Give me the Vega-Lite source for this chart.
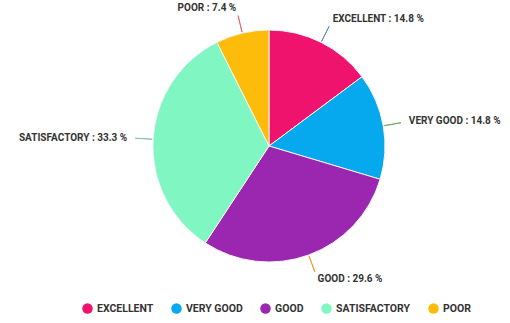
{
  "$schema": "https://vega.github.io/schema/vega-lite/v6.json",
  "autosize": "none",
  "width": 482,
  "height": 292,
  "padding": {"left": 28, "top": 0, "right": 0, "bottom": 31},
  "background": "white",
  "config": {"view": {"stroke": null}, "font": "Roboto"},
  "data": {
    "values": [
      {"category": "EXCELLENT", "count": 4, "rank": 1, "label": "EXCELLENT : 14.8 %"},
      {"category": "VERY GOOD", "count": 4, "rank": 2, "label": "VERY GOOD : 14.8 %"},
      {"category": "GOOD", "count": 8, "rank": 3, "label": "GOOD : 29.6 %"},
      {"category": "SATISFACTORY", "count": 9, "rank": 4, "label": "SATISFACTORY : 33.3 %"},
      {"category": "POOR", "count": 2, "rank": 5, "label": "POOR : 7.4 %"}
    ]
  },
  "encoding": {
    "theta": {"field": "count", "type": "quantitative", "stack": true},
    "order": {"field": "rank", "type": "quantitative"},
    "color": {
      "field": "category",
      "type": "nominal",
      "scale": {
        "domain": ["EXCELLENT", "VERY GOOD", "GOOD", "SATISFACTORY", "POOR"],
        "range": ["#F0136D", "#06A8EE", "#9B27B0", "#80F7C3", "#FDBC0A"]
      },
      "legend": {
        "title": null,
        "orient": "none",
        "direction": "horizontal",
        "legendX": 54,
        "legendY": 303,
        "symbolType": "circle",
        "symbolSize": 110,
        "symbolStrokeWidth": 0,
        "labelFont": "Roboto",
        "labelFontWeight": "bold",
        "labelFontSize": 10.5,
        "labelColor": "#333333",
        "columnPadding": 17,
        "padding": 0
      }
    }
  },
  "layer": [
    {"mark": {"type": "arc", "outerRadius": 116, "stroke": "#f4f4f4", "strokeWidth": 1}},
    {"mark": {"type": "arc", "radius": 134, "radius2": 117, "padAngle": 1.44, "fill": null, "fillOpacity": 0, "strokeWidth": 1, "strokeOpacity": 0.75},
     "encoding": {"stroke": {"field": "category", "type": "nominal", "legend": null}}},
    {"mark": {"type": "text", "radius": 142, "font": "Roboto", "fontWeight": "bold", "fontSize": 10, "fill": "#333333", "baseline": "middle",
      "align": {"expr": "datum.category === 'SATISFACTORY' || datum.category === 'POOR' ? 'right' : 'left'"}},
     "encoding": {"text": {"field": "label"}, "color": {"value": "#333333"}}}
  ]
}
